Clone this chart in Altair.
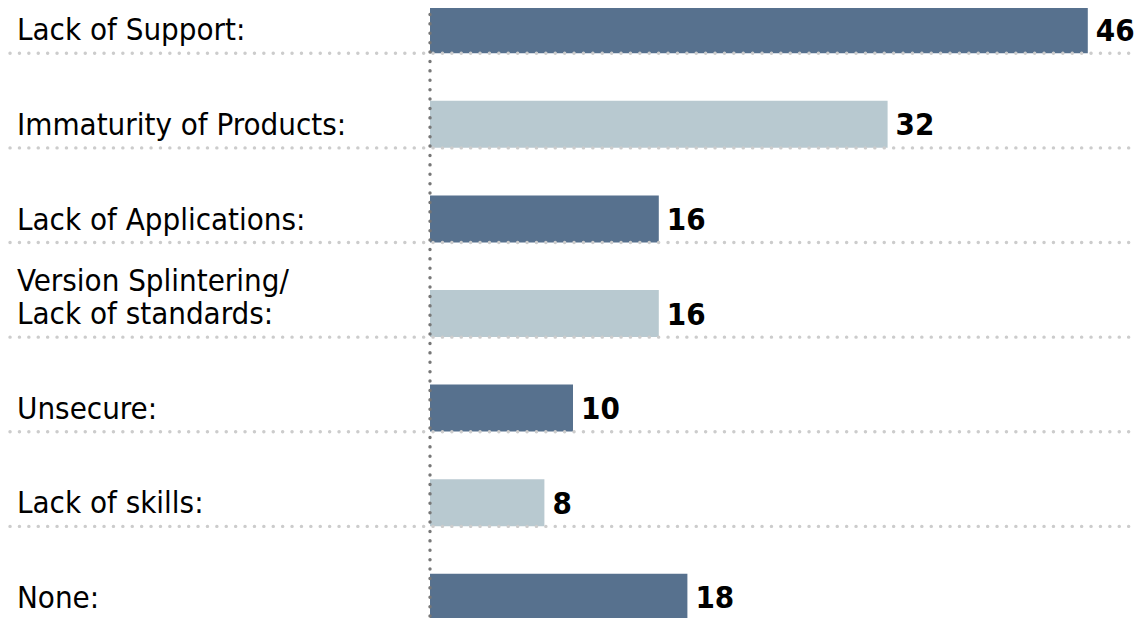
import altair as alt
import pandas as pd

categories = [
    "Lack of Support:",
    "Immaturity of Products:",
    "Lack of Applications:",
    "Version Splintering/\nLack of standards:",
    "Unsecure:",
    "Lack of skills:",
    "None:",
]
values = [46, 32, 16, 16, 10, 8, 18]
shades = ["dark", "light", "dark", "light", "dark", "light", "dark"]

df = pd.DataFrame({"cat": categories, "value": values, "shade": shades})

# one row per text line of each category label, counted from the bottom line
rows = []
for c in categories:
    parts = c.split("\n")
    for i, p in enumerate(parts):
        rows.append({"cat": c, "line": p, "fromBottom": len(parts) - 1 - i})
lines_df = pd.DataFrame(rows)

FONT = "DejaVu Sans Condensed, Lato, sans-serif"
W, H = 1129, 610
PX = 14.3

yband = alt.Scale(domain=categories, range=[-2, 613], paddingInner=0.5, paddingOuter=0)
xscale = alt.Scale(domain=[0, 46], range=[422, 422 + 46 * PX], zero=False, nice=False)

base = alt.Chart(df)

bars = base.mark_bar(size=47).encode(
    y=alt.Y("cat:N", scale=yband, axis=None),
    x=alt.X("value:Q", scale=xscale, axis=None),
    color=alt.Color("shade:N", scale=alt.Scale(domain=["dark", "light"], range=["#57718e", "#b8c9d0"]), legend=None),
)

hrules = base.mark_rule(
    color="#cccccc", strokeWidth=3.4, strokeDash=[0.1, 9.3], strokeCap="round"
).encode(
    y=alt.Y("cat:N", scale=yband, bandPosition=1, axis=None),
    x=alt.value(2),
    x2=alt.value(1122),
)

vrule = alt.Chart(pd.DataFrame({"v": [0]})).mark_rule(
    color="#777777", strokeWidth=3.4, strokeDash=[0.1, 9.3], strokeCap="round"
).encode(
    x=alt.X("v:Q", scale=xscale, axis=None),
    y=alt.value(-3),
    y2=alt.value(H),
)

lines_base = alt.Chart(lines_df)
label_style = dict(align="left", baseline="alphabetic", font=FONT, fontSize=31, color="#000000")

cat_labels_last = lines_base.transform_filter("datum.fromBottom == 0").mark_text(
    dy=-13, **label_style
).encode(
    y=alt.Y("cat:N", scale=yband, bandPosition=1, axis=None),
    x=alt.value(9),
    text="line:N",
)

cat_labels_prev = lines_base.transform_filter("datum.fromBottom == 1").mark_text(
    dy=-46, **label_style
).encode(
    y=alt.Y("cat:N", scale=yband, bandPosition=1, axis=None),
    x=alt.value(9),
    text="line:N",
)

val_labels = base.mark_text(
    align="left", baseline="middle", font=FONT, fontSize=31, fontWeight="bold",
    color="#000000", dx=8, dy=2,
).encode(
    y=alt.Y("cat:N", scale=yband, bandPosition=0.5, axis=None),
    x=alt.X("value:Q", scale=xscale, axis=None),
    text="value:Q",
)

chart = alt.layer(bars, hrules, vrule, cat_labels_last, cat_labels_prev, val_labels).properties(
    width=W, height=H, padding=0,
    autosize=alt.AutoSizeParams(type="none"),
).configure_view(stroke=None)

chart.save("out.html", embed_options={"renderer": "svg", "actions": False})
